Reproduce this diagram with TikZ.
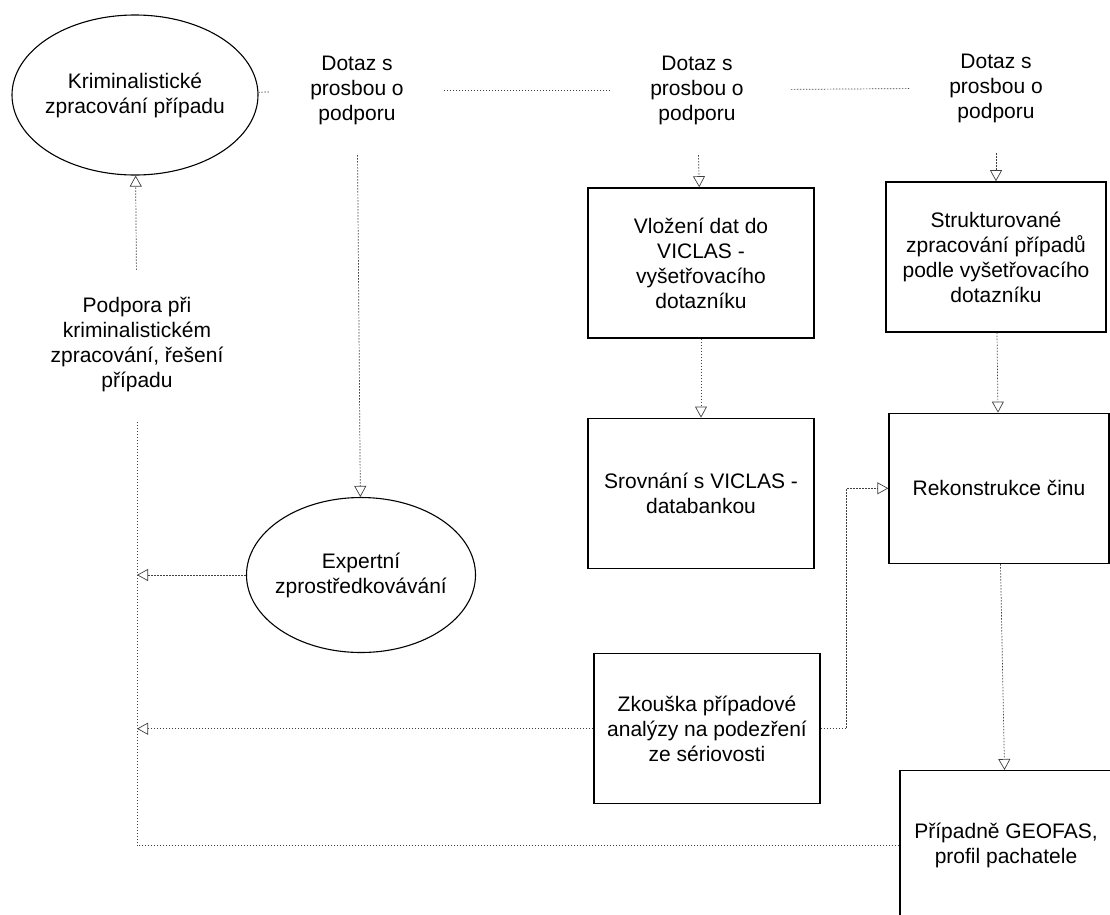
\documentclass[tikz,border=0pt]{standalone}
\usepackage{fontspec}
\setsansfont{Liberation Sans}
\usepackage{tikz}
\usetikzlibrary{shapes, arrows.meta, positioning}

\begin{document}
\begin{tikzpicture}[
			x=1pt, y=-1pt,
			font=\sffamily\fontsize{21}{25}\selectfont,
			box/.style={rectangle, draw, line width=1.4pt, minimum width=226pt, minimum height=150pt, align=center, inner sep=0pt},
			oval/.style={ellipse, draw, line width=1.1pt, align=center, inner sep=0pt},
			query/.style={align=center, minimum height=130pt, inner sep=2pt},
			link/.style={black!75, line width=0.7pt, dash pattern=on 1.5pt off 1.5pt},
			opentip/.style={-{Triangle[open, length=11pt, width=12pt]}},
			]
			\useasboundingbox (0,0) rectangle (1110,914);
			
			\node (krim) [oval, inner xsep=-4pt, minimum width=246pt, minimum height=160pt] at (135,95) {Kriminalistické\\zpracování případu};
			\node (q1) [query] at (357,90) {Dotaz s\\prosbou o\\podporu};
			\node (q2) [query] at (697,90) {Dotaz s\\prosbou o\\podporu};
			\node (q3) [query] at (996,88) {Dotaz s\\prosbou o\\podporu};
			\node (vloz) [box, below=32pt of q2, xshift=4pt] {Vložení dat do\\VICLAS -\\vyšetřovacího\\dotazníku};
			\node (strukt) [box, minimum width=220pt, below=28pt of q3] {Strukturované\\zpracování případů\\podle vyšetřovacího\\dotazníku};
			\node (srov) [box, below=79pt of vloz] {Srovnání s VICLAS -\\databankou};
			\node (rek) [box, minimum width=220pt, below=80pt of strukt, xshift=3pt] {Rekonstrukce činu};
			\node (zk) [box, below=84pt of srov, xshift=6pt] {Zkouška případové\\analýzy na podezření\\ze sériovosti};
			\node (gf) [box, minimum width=212pt, below=206pt of rek, xshift=7pt] {Případně GEOFAS,\\profil pachatele}; % cut off by the page edge
			\node (expert) [oval, inner xsep=-6pt, minimum width=229pt, minimum height=155pt] at (361,575) {Expertní\\zprostředkovávání};
			\node (podpora) [query, minimum height=150pt] at (137,345) {Podpora při\\kriminalistickém\\zpracování, řešení\\případu};
			\coordinate (trunk) at (gf.west -| podpora);
			
			\draw[link, shorten >=38pt] (krim) -- (q1);
			\draw[link, shorten <=38pt, shorten >=38pt] (q1) -- (q2);
			\draw[link, shorten <=45pt, shorten >=38pt] (q2) -- (q3);
			\draw[link, opentip] (q1) -- (expert);
			\draw[link, opentip] (q2) -- (vloz);
			\draw[link, opentip] (q3) -- (strukt);
			\draw[link, opentip] (vloz) -- (srov);
			\draw[link, opentip] (strukt) -- (rek);
			\draw[link, opentip] (rek) -- (gf);
			\draw[link, opentip] (zk.east) -- ++(26,0) |- (rek.west); % series check feeds reconstruction
			\draw[link, opentip] (expert) -- (expert -| trunk);
			\draw[link, opentip] (zk) -- (zk -| trunk);
			\draw[link] (gf) -- (trunk) -- (podpora); % results go back as support
			\draw[link, opentip] (podpora) -- (krim);
		\end{tikzpicture}
\end{document}
